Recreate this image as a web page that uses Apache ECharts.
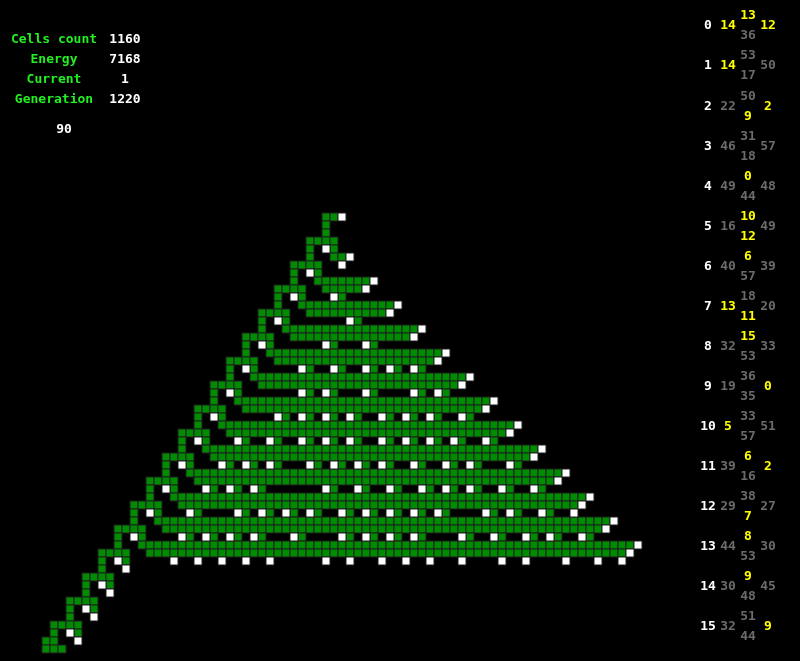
<!DOCTYPE html>
<html style="height: 100%">
<head>
<meta charset="utf-8">
</head>
<body style="height: 100%; margin: 0; background: #000">
<div id="container" style="width: 800px; height: 661px"></div>
<script type="text/javascript" src="https://cdn.jsdelivr.net/npm/echarts@6/dist/echarts.min.js"></script>
<script type="text/javascript">
// cell rows: [row, green runs, white cells, single green cells]
var cellRows = [
  [0, [[0,1]], [2], []],
  [1, [[0,0]], [], []],
  [2, [[0,0]], [], []],
  [3, [[-2,1]], [], []],
  [4, [], [0], [-2,1]],
  [5, [[1,2]], [3], [-2]],
  [6, [[-4,-1]], [2], []],
  [7, [], [-2], [-4,-1]],
  [8, [[-1,5]], [6], [-4]],
  [9, [[-6,-3],[0,4]], [5], []],
  [10, [], [-4,1], [-6,-3,2]],
  [11, [[-3,8]], [9], [-6]],
  [12, [[-8,-5],[-2,7]], [8], []],
  [13, [], [-6,3], [-8,-5,4]],
  [14, [[-5,11]], [12], [-8]],
  [15, [[-10,-7],[-4,10]], [11], []],
  [16, [], [-8,0,5], [-10,-7,1,6]],
  [17, [[-7,14]], [15], [-10]],
  [18, [[-12,-9],[-6,13]], [14], []],
  [19, [], [-10,-3,1,5,8,11], [-12,-9,-2,2,6,9,12]],
  [20, [[-9,17]], [18], [-12]],
  [21, [[-14,-11],[-8,16]], [17], []],
  [22, [], [-12,-3,0,5,11,14], [-14,-11,-2,1,6,12,15]],
  [23, [[-11,20]], [21], [-14]],
  [24, [[-16,-13],[-10,19]], [20], []],
  [25, [], [-14,-6,-3,0,3,7,10,13,17], [-16,-13,-5,-2,1,4,8,11,14,18]],
  [26, [[-13,23]], [24], [-16]],
  [27, [[-18,-15],[-12,22]], [23], []],
  [28, [], [-16,-11,-7,-3,0,3,7,10,13,16,20], [-18,-15,-10,-6,-2,1,4,8,11,14,17,21]],
  [29, [[-15,26]], [27], [-18]],
  [30, [[-20,-17],[-14,25]], [26], []],
  [31, [], [-18,-13,-10,-7,-2,1,4,7,11,15,18,23], [-20,-17,-12,-9,-6,-1,2,5,8,12,16,19,24]],
  [32, [[-17,29]], [30], [-20]],
  [33, [[-22,-19],[-16,28]], [29], []],
  [34, [], [-20,-15,-12,-9,0,4,8,12,15,18,22,26], [-22,-19,-14,-11,-8,1,5,9,13,16,19,23,27]],
  [35, [[-19,32]], [33], [-22]],
  [36, [[-24,-21],[-18,31]], [32], []],
  [37, [], [-22,-17,-11,-8,-5,-2,2,5,8,11,14,20,23,27,31], [-24,-21,-16,-10,-7,-4,-1,3,6,9,12,15,21,24,28]],
  [38, [[-21,35]], [36], [-24]],
  [39, [[-26,-23],[-20,34]], [35], []],
  [40, [], [-24,-18,-15,-12,-9,-4,2,5,8,11,17,21,25,28,32], [-26,-23,-17,-14,-11,-8,-3,3,6,9,12,18,22,26,29,33]],
  [41, [[-23,38]], [39], [-26]],
  [42, [[-28,-25],[-22,37]], [38], []],
  [43, [], [-26,-19,-16,-13,-10,-7,0,3,7,10,13,17,22,25,30,34,37], [-28,-25]],
  [44, [], [-25], [-28]],
  [45, [[-30,-27]], [], []],
  [46, [], [-28], [-30,-27]],
  [47, [], [-27], [-30]],
  [48, [[-32,-29]], [], []],
  [49, [], [-30], [-32,-29]],
  [50, [], [-29], [-32]],
  [51, [[-34,-31]], [], []],
  [52, [], [-32], [-34,-31]],
  [53, [[-35,-34]], [-31], []],
  [54, [[-35,-33]], [], []]
];

var statLabels = ['Cells count', 'Energy', 'Current', 'Generation'];
var statValues = ['1160', '7168', '1', '1220'];
var extraValue = '90';

// right panel: [top, left, right, bottom], Y = highlighted
var panelValues = [
  [13, 14, 12, 36], [53, 14, 50, 17], [50, 22, 2, 9], [31, 46, 57, 18],
  [0, 49, 48, 44], [10, 16, 49, 12], [6, 40, 39, 57], [18, 13, 20, 11],
  [15, 32, 33, 53], [36, 19, 0, 35], [33, 5, 51, 57], [6, 39, 2, 16],
  [38, 29, 27, 7], [8, 44, 30, 53], [9, 30, 45, 48], [51, 32, 9, 44]
];
var panelHighlight = [
  'YYYG', 'GYGG', 'GGYY', 'GGGG', 'YGGG', 'YGGY', 'YGGG', 'GYGY',
  'YGGG', 'GGYG', 'GYGG', 'YGYG', 'GGGY', 'YGGG', 'YGGG', 'GGYG'
];

var greenData = [], whiteData = [];
cellRows.forEach(function (row) {
  var r = row[0];
  row[1].forEach(function (run) {
    for (var c = run[0]; c <= run[1]; c++) greenData.push([c, r]);
  });
  row[2].forEach(function (c) { whiteData.push([c, r]); });
  row[3].forEach(function (c) { greenData.push([c, r]); });
});

var font = 'bold 13px "DejaVu Sans Mono", monospace';
function label(x, y, text, fill) {
  return { type: 'text', x: x, y: y, style: { text: text, fill: fill, font: font, align: 'center', verticalAlign: 'middle' } };
}
var graphics = [];
statLabels.forEach(function (t, i) {
  graphics.push(label(54, 40 + 20 * i, t, '#22ee22'));
  graphics.push(label(125, 40 + 20 * i, statValues[i], '#fff'));
});
graphics.push(label(64, 130, extraValue, '#fff'));

panelValues.forEach(function (v, i) {
  var cy = 26 + 40.07 * i;
  var hl = panelHighlight[i];
  var pos = [[748, cy - 10], [728, cy], [768, cy], [748, cy + 10]];
  graphics.push(label(708, cy, String(i), '#fff'));
  for (var k = 0; k < 4; k++) {
    graphics.push(label(pos[k][0], pos[k][1], String(v[k]), hl[k] === 'Y' ? '#ffff00' : '#6a6a6a'));
  }
});

var myChart = echarts.init(document.getElementById('container'));
var option = {
  backgroundColor: '#000',
  animation: false,
  grid: { left: 0, right: 0, top: 0, bottom: 0 },
  xAxis: { type: 'value', min: -326 / 8, max: (800 - 326) / 8, show: false },
  yAxis: { type: 'value', min: -217 / 8, max: (661 - 217) / 8, inverse: true, show: false },
  graphic: graphics,
  series: [
    {
      type: 'scatter', data: greenData, symbol: 'rect', symbolSize: 8,
      itemStyle: { color: '#008c00', borderColor: '#1e1e1e', borderWidth: 1, opacity: 1 }
    },
    {
      type: 'scatter', data: whiteData, symbol: 'rect', symbolSize: 8,
      itemStyle: { color: '#ffffff', borderColor: '#1e1e1e', borderWidth: 1, opacity: 1 }
    }
  ]
};
myChart.setOption(option);
</script>
</body>
</html>
